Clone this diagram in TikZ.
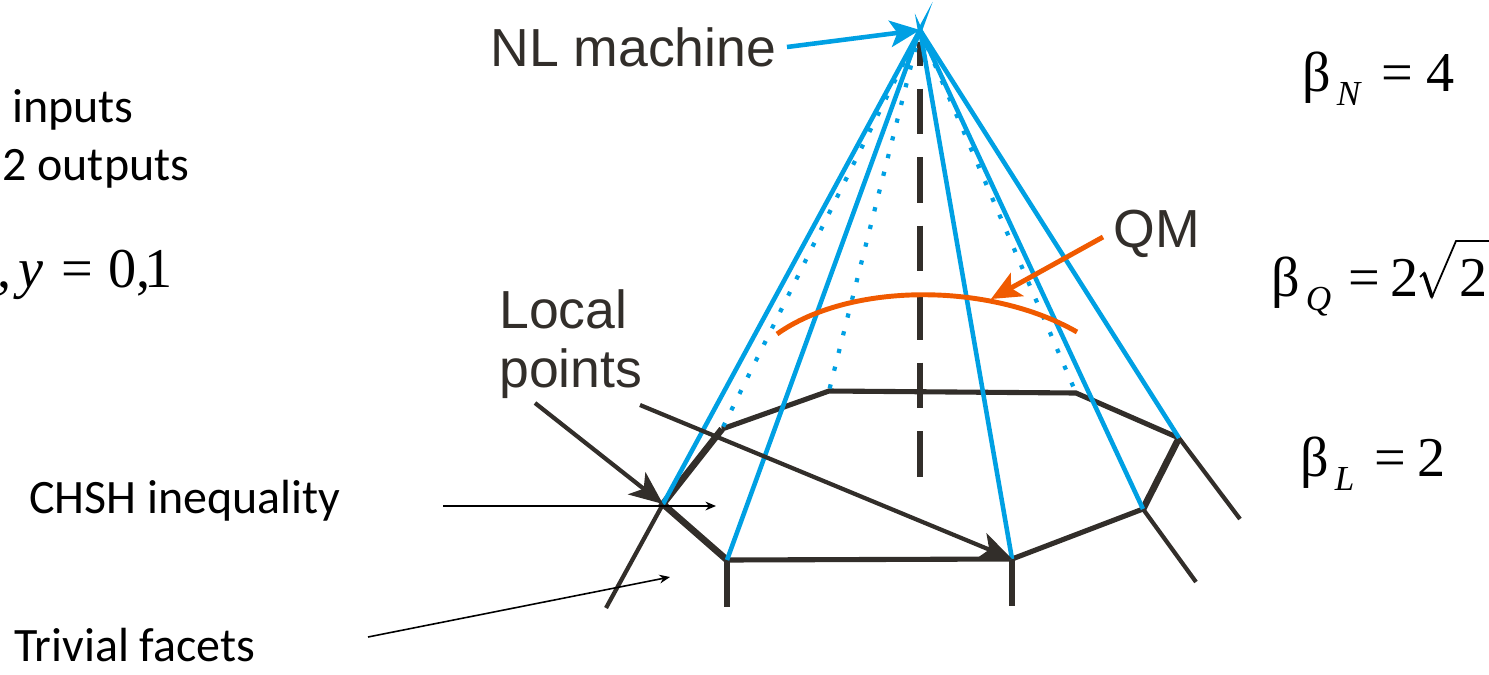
\documentclass[tikz,border=0pt]{standalone}
\usepackage{fontspec}
\setmainfont{Liberation Serif}
\newfontfamily\arialfont{Liberation Sans}
\newfontfamily\calibrifont{Carlito}
\usetikzlibrary{arrows.meta}
\definecolor{coneblue}{RGB}{0,160,227}
\definecolor{qmorange}{RGB}{240,90,0}
\definecolor{polydark}{RGB}{50,46,42}
\newcommand{\subfont}{\itshape\fontsize{20}{24}\selectfont}
\tikzset{
  conelabel/.style={inner sep=0pt, anchor=base west, text=polydark, font=\arialfont\fontsize{30.5}{34}\selectfont},
  sidelabel/.style={inner sep=0pt, anchor=base west, font=\calibrifont\fontsize{27.3}{32}\selectfont},
  betalabel/.style={inner sep=0pt, anchor=base west, font=\fontsize{32}{38}\selectfont},
  coneline/.style={coneblue, line width=2.6pt, miter limit=40},
  conedots/.style={coneblue, line width=2.4pt, dash pattern=on 2.4pt off 8pt},
  facetedge/.style={polydark, line width=2.9pt},
  facetbold/.style={polydark, line width=3.8pt},
  facetfree/.style={polydark, line width=2.4pt},
  bigarrow/.style={polydark, line width=2.4pt, -{Stealth[length=19pt,width=16pt,inset=5pt]}},
  bluearrow/.style={coneblue, line width=2.6pt, -{Stealth[length=17pt,width=15pt,inset=4pt]}},
  orangearrow/.style={qmorange, line width=2.8pt, -{Stealth[length=17pt,width=15pt,inset=4pt]}},
  thinarrow/.style={black, line width=0.9pt, -{Stealth[length=6pt,width=5pt]}}
}
\begin{document}
\begin{tikzpicture}[x=0.02cm, y=-0.02cm]
  \useasboundingbox (0,0) rectangle (1489,674);
  % polytope vertices
  \coordinate (apex) at (920,30);
  \coordinate (v1) at (663,504);
  \coordinate (v2) at (727,560);
  \coordinate (v3) at (1012,559);
  \coordinate (v4) at (1143,509);
  \coordinate (v5) at (1179,438);
  \coordinate (v6) at (1076,393);
  \coordinate (v7) at (829,391);
  \coordinate (v8) at (722,429);
  % free ends
  \coordinate (e1) at (606,608);
  \coordinate (e2) at (727,607);
  \coordinate (e3) at (1012,606);
  \coordinate (e4) at (1196,582);
  \coordinate (e5) at (1240,519);
  \coordinate (axtop) at (920,42);
  \coordinate (axbot) at (920,477);
  % facets
  \draw[facetedge] (v8) -- (v7) -- (v6) -- (v5);
  \draw[facetbold] (v5) -- (v4);
  \draw[facetedge] (v4) -- (v3) -- (v2);
  \draw[facetbold] (v2) -- (v1) -- (v8);
  \draw[facetfree] (v1) -- (e1);
  \draw[facetedge] (v2) -- (e2);
  \draw[facetedge] (v3) -- (e3);
  \draw[facetfree] (v4) -- (e4);
  \draw[facetfree] (v5) -- (e5);
  \draw[polydark, line width=3pt, dash pattern=on 26pt off 13pt, dash phase=12.5pt] (axtop) -- (axbot);
  % cone
  \draw[conedots] (apex) -- (v8);
  \draw[conedots] (apex) -- (v7);
  \draw[conedots] (apex) -- (v6);
  \draw[coneline] (v1) -- (apex) -- (v2);
  \draw[coneline] (v3) -- (apex) -- (v4);
  \draw[coneline] (apex) -- (v5);
  % quantum curve
  \coordinate (qmtip) at (991,299);
  \draw[qmorange, line width=2.8pt] (777,334) .. controls (850,282) and (990,282) .. (1077,332);
  % labels
  \node[conelabel] (nl) at (490,66) {NL machine};
  \node[conelabel] (qm) at (1113,247) {QM};
  \node[conelabel, align=left, anchor=north west] (local) at (499,289) {Local\\[0pt]points};
  \node[sidelabel] (inputs) at (12,122) {inputs};
  \node[sidelabel] (outputs) at (2,180) {2 outputs};
  \node[sidelabel] (chsh) at (29,513) {CHSH inequality};
  \node[sidelabel] (trivial) at (14,661) {Trivial facets};
  \node[betalabel] (xy) at (-3,287) {,\kern-4pt{} \textit{y}\kern2.5pt{} =\kern0.5pt{} 0,\kern-3.5pt{}1};
  \node[betalabel] (bn) at (1302,91) {β{\subfont\raisebox{-8.5pt}{\,N}}\kern4pt{} = \kern-0.5pt{}4};
  \node[betalabel] (bq) at (1271,296) {β{\subfont\raisebox{-8.5pt}{\,Q}}\kern2pt{} = \kern-2pt{}2};
  \node[betalabel] (rt) at (1459,296) {2};
  \node[betalabel] (bl) at (1300,476) {β{\subfont\raisebox{-8.5pt}{\,L}}\kern3.5pt{} = \kern-1.5pt{}2};
  % square root sign
  \coordinate (rt0) at (1420,277);
  \coordinate (rt1) at (1424,273);
  \coordinate (rt2) at (1432,297);
  \coordinate (rt3) at (1456,241);
  \coordinate (rt4) at (1489,241);
  \draw[black, line width=1pt] (rt0) -- (rt1) -- (rt2) -- (rt3) -- (rt4);
  \draw[black, line width=2pt] (rt1) -- (rt2);
  % arrows
  \coordinate (nlend) at (787,47);
  \coordinate (qmend) at (1103,237);
  \coordinate (lp1) at (535,403);
  \coordinate (lp2) at (640,405);
  \coordinate (ch1) at (443,506);
  \coordinate (ch2) at (716,506);
  \coordinate (tr1) at (368,637);
  \coordinate (tr2) at (670,577);
  \draw[bluearrow] (nlend) -- (apex);
  \draw[orangearrow] (qmend) -- (qmtip);
  \draw[bigarrow] (lp1) -- (v1);
  \draw[bigarrow] (lp2) -- (v3);
  \draw[thinarrow] (ch1) -- (ch2);
  \draw[thinarrow] (tr1) -- (tr2);
\end{tikzpicture}
\end{document}
